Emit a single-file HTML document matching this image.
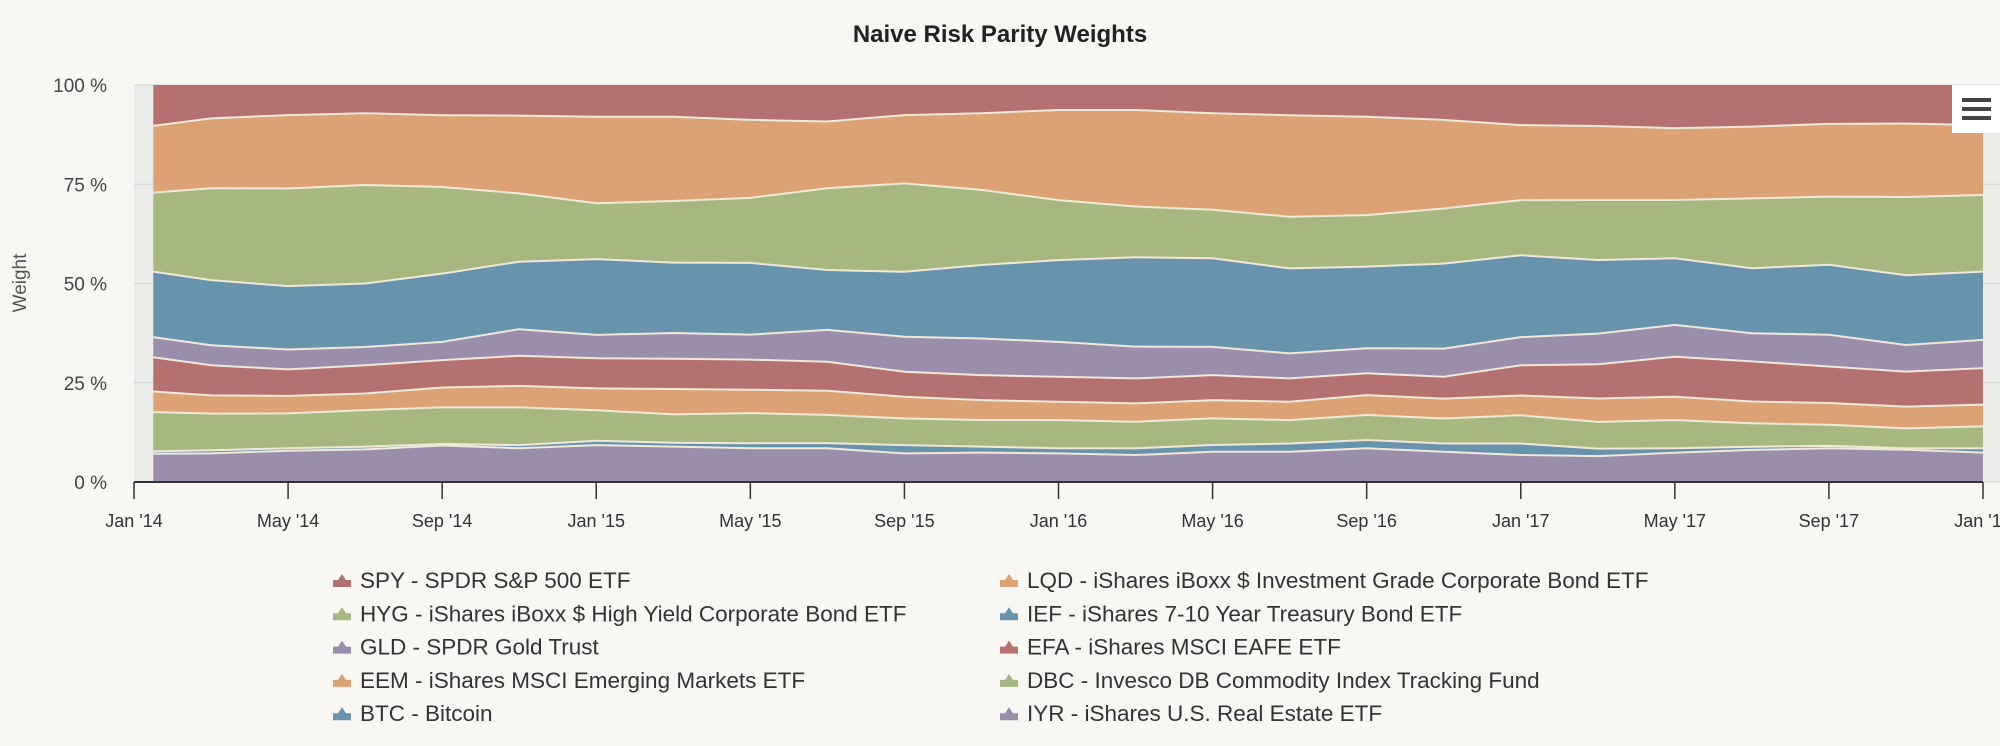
<!DOCTYPE html>
<html><head><meta charset="utf-8">
<style>
html,body{margin:0;padding:0;background:#f8f7f3;}
body{width:2000px;height:741px;overflow:hidden;font-family:"Liberation Sans",sans-serif;}
svg text{font-family:"Liberation Sans",sans-serif;}
</style></head>
<body>
<svg id="chart" width="2000" height="741" viewBox="0 0 2000 741">
  <rect x="0" y="0" width="2000" height="741" fill="#f8f7f3"/>
  <text x="1000" y="42" text-anchor="middle" font-size="24" font-weight="bold" fill="#222">Naive Risk Parity Weights</text>
  <rect x="134" y="85" width="1866" height="397" fill="#ebebea"/>
  <g id="grid"></g>
  <g id="areas"></g>
  <g id="yaxis"></g>
  <g id="xaxis"></g>
  <text transform="translate(26,283) rotate(-90)" text-anchor="middle" font-size="19" fill="#555">Weight</text>
  <g>
    <rect x="1952" y="85" width="48" height="48" fill="#ffffff"/>
    <rect x="1962" y="98" width="29" height="4" fill="#444"/>
    <rect x="1962" y="107" width="29" height="4" fill="#444"/>
    <rect x="1962" y="116" width="29" height="4" fill="#444"/>
  </g>
  <g id="legend"></g>
</svg>
<script>
const months = [0.5,2,4,6,8,10,12,14,16,18,20,22,24,26,28,30,32,34,36,38,40,42,44,46,48];
const seriesNames = ["SPY - SPDR S&P 500 ETF","LQD - iShares iBoxx $ Investment Grade Corporate Bond ETF","HYG - iShares iBoxx $ High Yield Corporate Bond ETF","IEF - iShares 7-10 Year Treasury Bond ETF","GLD - SPDR Gold Trust","EFA - iShares MSCI EAFE ETF","EEM - iShares MSCI Emerging Markets ETF","DBC - Invesco DB Commodity Index Tracking Fund","BTC - Bitcoin","IYR - iShares U.S. Real Estate ETF"];
const spy = [10.3,8.4,7.6,7.1,7.6,7.7,8.0,8.0,8.8,9.2,7.6,7.1,6.3,6.3,7.1,7.6,8.0,8.8,10.1,10.3,10.9,10.5,9.8,9.7,10.1];
const lqd = [16.8,17.6,18.5,18.1,18.1,19.6,21.8,21.2,19.7,16.8,17.2,19.3,22.7,24.3,24.3,25.6,24.8,22.3,18.9,18.6,18.1,18.1,18.3,18.5,17.6];
const hyg = [19.9,23.1,24.6,24.8,21.8,17.2,14.1,15.5,16.4,20.6,22.3,18.9,15.1,12.8,12.2,13.0,13.0,13.9,13.9,15.1,14.7,17.6,17.2,19.7,19.3];
const ief = [16.5,16.4,16.0,16.0,17.2,17.0,19.1,17.7,18.1,15.1,16.4,18.5,20.6,22.5,22.3,21.4,20.6,21.4,20.6,18.5,16.8,16.4,17.6,17.6,17.2];
const gld = [5.1,5.0,5.0,4.6,4.6,6.7,5.9,6.5,6.3,8.0,8.8,9.2,8.8,8.0,7.1,6.3,6.3,7.1,7.1,7.7,8.0,7.1,8.0,6.7,7.1];
const efa = [8.6,7.6,6.7,7.1,6.9,7.6,7.6,7.6,7.6,7.3,6.3,6.3,6.3,6.3,6.3,5.9,5.5,5.5,7.6,8.6,10.1,10.1,9.2,8.8,9.2];
const eem = [5.2,4.6,4.4,4.2,5.0,5.4,5.5,6.4,5.9,6.1,5.5,5.0,4.6,4.6,4.6,4.6,5.0,5.0,5.0,5.9,5.9,5.5,5.5,5.5,5.5];
const dbc = [9.9,9.2,8.8,9.2,9.2,9.5,7.7,7.1,7.6,7.1,6.7,6.7,7.1,6.7,6.7,5.9,6.3,6.3,7.1,6.7,7.1,5.9,5.3,5.0,5.5];
const btc = [0.6,0.8,0.6,0.7,0.4,0.8,1.1,1.0,1.3,1.3,2.1,1.5,1.3,1.7,1.7,2.1,2.1,2.1,2.9,1.9,1.1,0.8,0.6,0.4,1.1];
const iyr = [7.1,7.2,7.9,8.2,9.2,8.5,9.3,8.9,8.5,8.5,7.2,7.4,7.2,6.8,7.6,7.6,8.5,7.6,6.8,6.5,7.4,8.1,8.5,8.1,7.4];
const yTicks = [0,25,50,75,100];
const xTickLabels = ["Jan '14","May '14","Sep '14","Jan '15","May '15","Sep '15","Jan '16","May '16","Sep '16","Jan '17","May '17","Sep '17","Jan '18"];
const xTickMonths = [0,4,8,12,16,20,24,28,32,36,40,44,48];

const NS="http://www.w3.org/2000/svg";
const X0=134,X1=1983,Y0=482,Y1=85;
const xs = m => X0 + (X1-X0)*m/48;
const ys = p => Y0 - (Y0-Y1)*p/100;
const series=[spy,lqd,hyg,ief,gld,efa,eem,dbc,btc,iyr];
const colors=["#b5716f","#dca274","#a6b77f","#6893ad","#9b8dac","#b5716f","#dca274","#a6b77f","#6893ad","#9b8dac"];
const keys=["spy","lqd","hyg","ief","gld","efa","eem","dbc","btc","iyr"];
function mk(tag,attrs,parent){const e=document.createElementNS(NS,tag);for(const k in attrs)e.setAttribute(k,attrs[k]);parent.appendChild(e);return e;}

const grid=document.getElementById('grid');
yTicks.forEach(t=>{
  const l=mk('line',{x1:X0,x2:2000,y1:ys(t),y2:ys(t),stroke:'#d4d4d4','stroke-width':1},grid);
  
  
});

const n=months.length;
const totals=months.map((_,i)=>series.reduce((s,a)=>s+a[i],0));
const cum=[];
let base=new Array(n).fill(0);
const bottoms=[];
for(let k=series.length-1;k>=0;k--){
  bottoms[k]=base.slice();
  cum[k]=base.map((b,i)=>b+series[k][i]/totals[i]*100);
  base=cum[k];
}
const areas=document.getElementById('areas');
for(let k=0;k<series.length;k++){
  let d='';
  for(let i=0;i<n;i++){d+=(i?'L':'M')+xs(months[i]).toFixed(1)+','+ys(cum[k][i]).toFixed(1);}
  for(let i=n-1;i>=0;i--){d+='L'+xs(months[i]).toFixed(1)+','+ys(bottoms[k][i]).toFixed(1);}
  d+='Z';
  const p=mk('path',{d:d,fill:colors[k]},areas);
  
  
}
for(let k=1;k<series.length;k++){
  let d='';
  for(let i=0;i<n;i++){d+=(i?'L':'M')+xs(months[i]).toFixed(1)+','+ys(cum[k][i]).toFixed(1);}
  const p=mk('path',{d:d,fill:'none',stroke:'#efe8d8','stroke-width':2},areas);
  
  
}

const ya=document.getElementById('yaxis');
yTicks.forEach(t=>{
  const tx=mk('text',{x:107,y:ys(t)+7,'text-anchor':'end','font-size':19,fill:'#444'},ya);
  tx.textContent=t+' %';
  
  
});

const xa=document.getElementById('xaxis');
const axl=mk('line',{x1:X0,x2:X1,y1:Y0,y2:Y0,stroke:'#333','stroke-width':2},xa);


xTickMonths.forEach((m,i)=>{
  const tk=mk('line',{x1:xs(m),x2:xs(m),y1:Y0,y2:Y0+17,stroke:'#333','stroke-width':1.5},xa);
  
  
  const tx=mk('text',{x:xs(m),y:527,'text-anchor':'middle','font-size':18,fill:'#333'},xa);
  tx.textContent=xTickLabels[i];
  
  
});

const lg=document.getElementById('legend');
seriesNames.forEach((name,k)=>{
  const col=k%2, row=Math.floor(k/2);
  const ix=col?1009:342, tx0=col?1027:360, cy=580+row*33.3;
  const g=mk('g',{},lg);
  
  
  mk('path',{d:`M${ix-9},${cy+7}L${ix-9},${cy}L${ix-4},${cy}L${ix},${cy-6}L${ix+4},${cy}L${ix+9},${cy}L${ix+9},${cy+7}Z`,fill:colors[k]},g);
  const t=mk('text',{x:tx0,y:cy+8,'font-size':22.5,fill:'#333'},g);
  t.textContent=name;
});
</script>
</body></html>
